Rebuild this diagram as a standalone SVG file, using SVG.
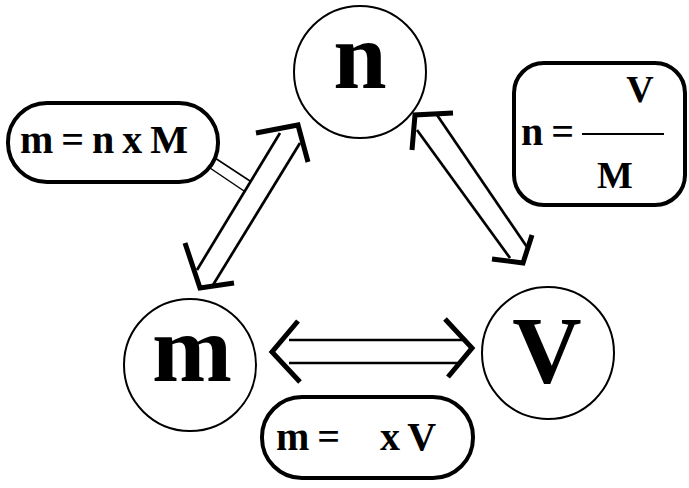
<svg xmlns="http://www.w3.org/2000/svg" width="689" height="488" viewBox="0 0 689 488">
<style>
.c{fill:#fff;stroke:#000;stroke-width:2}
.big{font-family:"Liberation Serif","Times New Roman",serif;font-weight:bold;font-size:96px;fill:#000}
.box{fill:#fff;stroke:#000;stroke-width:4}
.t{font-family:"Liberation Serif","Times New Roman",serif;font-weight:bold;fill:#000;word-spacing:-2px}
.head{fill:none;stroke:#000;stroke-width:5;stroke-linejoin:miter;stroke-linecap:butt}
.shaft{fill:none;stroke:#000;stroke-width:2.7}
.thin{fill:none;stroke:#000;stroke-width:1.5}
</style>
<rect width="689" height="488" fill="#fff"/>
<g id="connectors">
  <g id="arrow-n-m">
    <line class="shaft" x1="280" y1="133" x2="197" y2="270"/>
    <line class="shaft" x1="300" y1="143" x2="213" y2="285"/>
    <polyline class="head" points="256,133 298,125 308,162"/>
    <polyline class="head" points="185,243 200,288 234,283"/>
  </g>
  <g id="arrow-n-V">
    <line class="shaft" x1="417" y1="130" x2="510" y2="258"/>
    <line class="shaft" x1="437" y1="115" x2="527" y2="247"/>
    <polyline class="head" points="453,113 415,115 412,150"/>
    <polyline class="head" points="492,259 523,263 532,235"/>
  </g>
  <g id="arrow-m-V">
    <line class="shaft" x1="289" y1="340" x2="467" y2="340"/>
    <line class="shaft" x1="289" y1="363" x2="462" y2="363"/>
    <polyline class="head" points="298,321 272,352 300,382"/>
    <polyline class="head" points="445,319 472,348 448,377"/>
  </g>
  <g id="link-mass-formula">
    <line class="thin" x1="215" y1="158" x2="250" y2="181"/>
    <line class="thin" x1="210" y1="168" x2="244" y2="191"/>
  </g>
</g>
<g id="node-n">
  <circle class="c" cx="360" cy="72" r="66"/>
  <text class="big" x="360" y="88" text-anchor="middle">n</text>
</g>
<g id="node-m">
  <circle class="c" cx="190" cy="365" r="66"/>
  <text class="big" x="192" y="381" text-anchor="middle">m</text>
</g>
<g id="node-V">
  <circle class="c" cx="548" cy="353" r="66"/>
  <text class="big" x="547" y="383" text-anchor="middle">V</text>
</g>
<g id="formula-m-nM">
  <rect class="box" x="8" y="103" width="210" height="79" rx="39" ry="39"/>
  <text class="t" x="20" y="153" font-size="40">m = n x M</text>
</g>
<g id="formula-n-VM">
  <rect class="box" x="514" y="63" width="171" height="142" rx="30" ry="30"/>
  <text class="t" x="521" y="145" font-size="40">n =</text>
  <line x1="582" y1="134" x2="664" y2="134" stroke="#000" stroke-width="2"/>
  <text class="t" x="640" y="102" font-size="38" text-anchor="middle">V</text>
  <text class="t" x="615" y="188" font-size="38" text-anchor="middle">M</text>
</g>
<g id="formula-m-xV">
  <rect class="box" x="262" y="397" width="211" height="81" rx="40" ry="40"/>
  <text class="t" x="276" y="450" font-size="40">m =</text>
  <text class="t" x="380" y="450" font-size="40">x V</text>
</g>
</svg>
